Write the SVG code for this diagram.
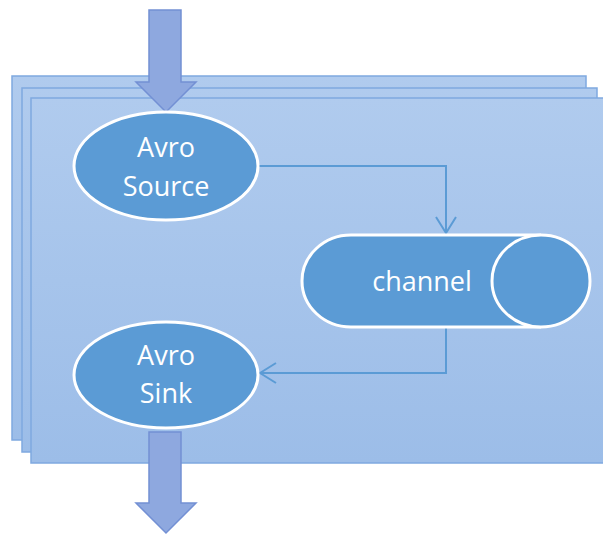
<svg xmlns="http://www.w3.org/2000/svg" width="603" height="535" viewBox="0 0 603 535">
  <style>
    .panel { fill: url(#panelGrad); stroke: #7fa9e0; stroke-width: 1.5; }
    .node { fill: #5b9bd5; stroke: #ffffff; stroke-width: 3; }
    .label { font-family: "Open Sans", "Liberation Sans", sans-serif; font-size: 27px; fill: #ffffff; text-anchor: middle; }
    .conn { fill: none; stroke: #5b9bd5; stroke-width: 2; }
    .bigarrow { fill: #8ea8df; stroke: #7390d4; stroke-width: 1.5; }
  </style>
  <defs>
    <linearGradient id="panelGrad" x1="0" y1="0" x2="0" y2="1">
      <stop offset="0" stop-color="#b0cbee"/>
      <stop offset="1" stop-color="#9cbde8"/>
    </linearGradient>
    <marker id="open" viewBox="0 0 18 22" refX="17" refY="11" markerWidth="18" markerHeight="22" markerUnits="userSpaceOnUse" orient="auto">
      <path d="M1,1 L17,11 L1,21" fill="none" stroke="#5b9bd5" stroke-width="2"/>
    </marker>
  </defs>
  <rect width="603" height="535" fill="#ffffff"/>
  <g id="panels">
    <rect class="panel" x="12" y="76" width="574" height="364"/>
    <rect class="panel" x="22" y="88" width="575" height="364"/>
    <rect class="panel" x="31" y="98" width="580" height="365"/>
  </g>
  <g id="connectors">
    <polyline class="conn" points="258,166 446,166 446,233" marker-end="url(#open)"/>
    <polyline class="conn" points="446,327 446,373 260,373" marker-end="url(#open)"/>
  </g>
  <g id="input-arrow">
    <polygon class="bigarrow" points="149,10 181,10 181,82 196,82 166,112 136,82 149,82"/>
  </g>
  <g id="avro-source">
    <ellipse class="node" cx="166" cy="166" rx="92" ry="54"/>
    <text class="label" x="166" y="157">Avro</text>
    <text class="label" x="166" y="196">Source</text>
  </g>
  <g id="channel">
    <path class="node" d="M541,235 L351,235 A49,46 0 0 0 351,327 L541,327"/>
    <ellipse class="node" cx="541" cy="281" rx="49" ry="46"/>
    <text class="label" x="422" y="291">channel</text>
  </g>
  <g id="avro-sink">
    <ellipse class="node" cx="166" cy="375" rx="92" ry="53"/>
    <text class="label" x="166" y="365">Avro</text>
    <text class="label" x="166" y="403">Sink</text>
  </g>
  <g id="output-arrow">
    <polygon class="bigarrow" points="149,432 181,432 181,503 196,503 166,533 136,503 149,503"/>
  </g>
</svg>
